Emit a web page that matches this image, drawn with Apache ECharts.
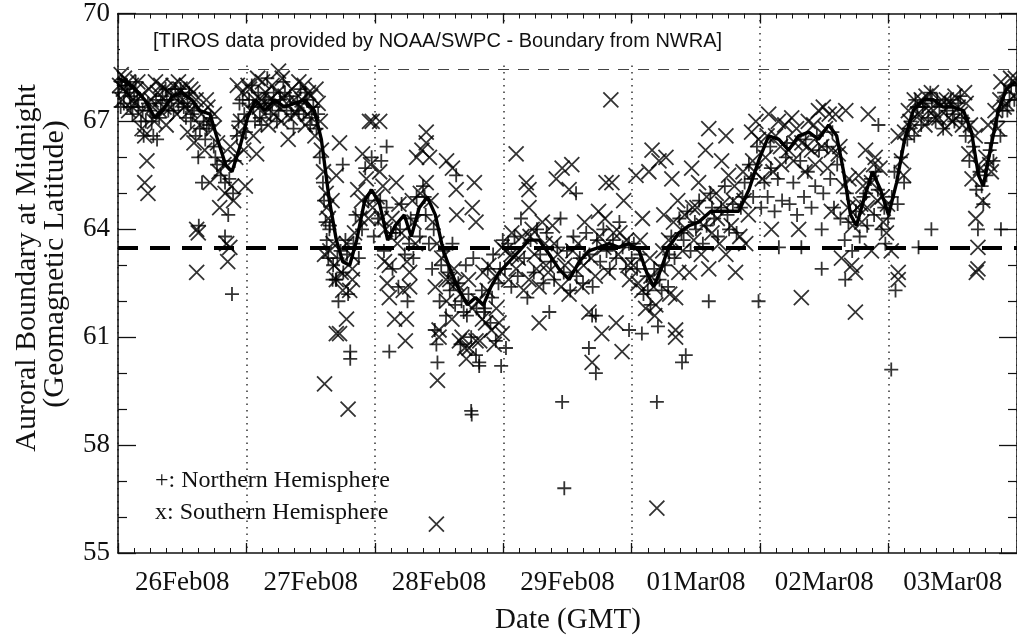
<!DOCTYPE html>
<html>
<head>
<meta charset="utf-8">
<script src="https://cdn.jsdelivr.net/npm/echarts@6/dist/echarts.min.js"></script>
<style>
html,body{margin:0;padding:0;background:#fff;}
#chart{width:1017px;height:636px;}
</style>
</head>
<body>
<div id="chart"></div>
<script>
// Hours since 26Feb08 00:00 GMT, geomagnetic latitude (deg)
const dayLabels = ['26Feb08','27Feb08','28Feb08','29Feb08','01Mar08','02Mar08','03Mar08'];

const northern = [
[0.2,67.8],[0.7,68.1],[1.1,67.5],[1.7,68.0],[2.2,67.7],[2.7,67.2],[3.3,68.1],[3.8,67.4],[4.3,67.0],[4.8,66.6],
[6.0,67.3],[6.6,66.6],[7.1,67.6],[7.3,66.5],[7.7,67.1],[8.3,67.7],[8.9,67.9],[9.4,67.3],[10.0,67.6],[10.7,67.9],
[11.3,67.5],[12.0,67.7],[12.7,67.1],[13.3,67.8],[13.9,67.2],[14.5,66.6],[15.0,66.0],[15.1,64.1],[15.7,65.3],[16.0,67.0],
[16.6,66.8],[17.3,67.1],[17.9,66.3],[18.5,65.8],[19.2,65.5],[20.0,65.3],[20.0,63.8],[20.6,64.4],[21.3,62.2],[21.5,65.0],
[22.2,66.6],[22.7,67.5],[23.3,67.6],[23.9,66.7],
[0.5,67.4],[1.4,67.9],[2.4,67.4],[3.0,67.8],[3.6,67.6],[4.6,67.3],[5.2,67.0],[5.6,67.5],[6.3,67.0],[8.0,67.5],
[9.1,67.6],[10.4,67.3],[11.7,67.9],[12.3,67.4],[13.0,67.5],[13.6,67.0],[14.2,67.3],[15.3,66.8],[16.3,66.5],[17.0,66.9],
[18.2,66.0],[19.6,65.9],[20.8,65.4],[21.8,65.9],[22.5,67.0],[23.6,67.2],
[24.5,67.6],[25.0,68.0],[25.6,67.0],[26.2,67.8],[26.8,66.9],[27.3,67.5],[27.9,68.2],[28.5,67.2],[29.1,67.8],[29.7,67.0],
[30.3,67.6],[30.9,68.1],[31.5,67.3],[32.1,67.7],[32.8,66.8],[33.5,67.5],[34.1,67.9],[34.7,67.2],[35.3,67.6],[35.9,66.9],
[36.5,67.4],[37.1,66.8],[37.7,66.0],[38.3,65.3],[38.8,64.2],[39.3,63.2],[39.5,64.0],[39.6,64.1],[40.1,62.6],[40.2,63.0],
[40.7,62.6],[40.8,62.6],[41.2,62.0],[41.6,63.4],[42.0,65.8],[42.1,62.8],[42.5,63.7],[43.0,62.2],[43.4,60.6],[43.4,60.4],
[44.4,64.4],[45.0,63.2],[45.6,64.0],[46.2,65.7],[46.8,64.8],[47.4,66.0],[47.8,63.8],
[25.3,67.4],[26.5,67.1],[27.6,67.6],[28.8,67.5],[30.0,67.3],[31.2,67.8],[32.4,67.2],[33.8,67.3],[35.0,67.8],[36.2,67.1],
[37.4,67.2],[38.5,64.8],[39.0,63.7],[41.0,63.2],[42.8,63.3],[44.0,63.6],
[48.6,64.3],[49.2,65.9],[49.7,63.4],[50.2,64.6],[50.2,66.3],[50.7,60.6],[51.3,62.9],[51.9,63.9],[52.4,62.4],[53.0,64.7],
[53.6,63.3],[54.1,62.0],[54.7,64.3],[55.2,63.2],[55.8,64.9],[56.4,63.8],[57.0,65.2],[57.5,64.4],[58.1,63.6],[58.7,62.9],
[59.2,61.2],[59.5,60.8],[59.7,60.3],[60.1,62.0],[60.8,63.4],[61.3,61.6],[62.0,62.3],[62.5,63.6],[63.0,61.9],[63.2,65.5],
[63.6,62.5],[64.0,60.8],[64.6,61.7],[65.0,63.0],[65.5,62.2],[66.0,61.0],[66.0,58.95],[66.1,58.85],[66.4,63.2],[66.9,60.5],
[67.5,60.2],[67.5,60.3],[68.0,62.3],[68.6,61.8],[69.1,62.9],[69.6,61.4],[70.1,63.3],[70.6,60.9],[71.1,62.5],[71.6,60.2],[71.9,63.7],
[49.0,64.8],[51.0,63.9],[52.7,64.0],[54.4,63.6],[56.0,64.4],[57.3,64.9],[59.0,64.0],[60.4,63.0],[61.7,62.8],[62.7,62.5],
[64.2,62.0],[65.2,61.6],[67.0,61.8],[68.4,61.7],[69.9,62.1],[71.4,62.9],
[72.3,62.9],[72.5,60.7],[72.9,63.6],[73.5,62.4],[74.1,63.8],[74.7,62.7],[75.3,64.3],[75.9,63.2],[76.5,62.1],[77.1,63.7],
[77.7,62.8],[78.3,64.0],[78.9,63.3],[79.5,62.5],[80.1,63.9],[80.6,61.7],[80.9,63.1],[81.5,62.6],[82.1,63.5],[82.7,64.3],
[83.0,59.2],[83.3,62.8],[83.4,56.8],[83.9,63.4],[84.5,62.3],[85.1,63.8],[85.6,65.0],[85.7,62.7],[86.3,63.2],[86.9,62.5],
[87.5,63.9],[88.0,60.7],[88.1,63.3],[88.6,61.6],[88.7,62.4],[89.3,61.6],[89.3,60.0],[89.5,63.7],[90.1,63.1],[90.7,64.0],
[91.3,63.4],[91.9,62.9],[92.5,63.7],[93.1,63.2],[93.7,64.2],[94.3,63.5],[94.9,62.9],[95.5,63.6],[95.5,61.2],
[96.4,63.6],[97.0,62.9],[97.6,63.3],[97.9,61.1],[98.2,62.2],[98.8,62.7],[99.5,61.9],[100.2,62.9],[100.7,59.2],[100.9,61.3],
[101.6,62.3],[102.2,63.0],[102.8,62.4],[103.4,63.8],[104.0,63.2],[104.9,64.3],[105.4,60.3],[105.7,63.7],[106.1,60.5],[106.4,64.5],
[107.0,63.4],[107.8,64.2],[108.6,64.8],[109.3,63.6],[110.0,64.1],[110.4,62.0],[110.7,65.0],[111.4,64.3],[112.1,63.8],[112.7,64.6],
[113.4,65.2],[114.2,64.0],[114.9,64.7],[115.6,63.9],[116.4,64.6],[117.1,65.3],[117.9,65.8],[118.7,64.9],[119.4,66.3],[119.7,62.0],
[96.0,63.2],[99.0,62.3],[101.2,62.6],[103.0,63.3],[105.3,63.9],[108.0,64.0],[111.0,64.6],[113.9,64.4],[116.7,64.9],[118.3,65.4],
[120.2,64.6],[120.8,65.3],[121.4,64.9],[122.0,65.7],[122.7,64.5],[123.3,65.4],[123.5,63.5],[124.1,64.8],[124.8,66.0],[125.5,64.7],
[126.2,65.3],[126.9,64.4],[127.5,65.9],[127.7,63.5],[128.2,64.9],[128.9,65.6],[129.6,64.6],[130.3,65.2],[131.0,66.2],[131.5,64.0],
[131.5,62.9],[131.8,65.0],[132.5,66.3],[133.1,65.4],[133.8,64.6],[134.4,65.8],[135.0,64.3],[135.8,63.7],[135.9,62.6],[136.5,64.2],
[137.2,63.4],[137.9,64.5],[138.6,63.8],[139.3,64.9],[140.0,64.1],[140.7,65.4],[141.3,64.4],[142.0,65.1],[142.1,66.9],[142.7,64.0],
[143.4,63.6],[143.9,64.3],
[121.9,66.3],[125.0,66.4],[128.5,66.5],[130.6,66.6],[133.5,66.7],[136.2,65.0],[139.8,65.0],[141.6,65.6],[143.2,64.6],
[144.5,60.1],[144.6,64.9],[145.1,65.6],[145.3,62.3],[145.7,64.7],[146.3,66.0],[146.9,65.3],[147.5,66.5],[148.1,67.0],[148.8,66.6],
[149.4,67.4],[149.6,63.5],[150.1,66.9],[150.8,67.5],[151.4,67.1],[152.0,64.0],[152.1,67.6],[152.8,67.0],[153.5,67.4],[154.2,66.8],
[154.9,67.3],[155.6,67.6],[156.3,67.0],[157.0,67.5],[157.7,67.1],[158.4,66.6],[159.1,65.9],[159.8,66.3],[160.4,65.1],[160.7,64.0],
[161.0,65.6],[161.7,64.7],[162.3,65.5],[162.9,66.2],[163.6,65.9],[164.3,67.0],[164.9,66.6],[165.0,64.0],[165.6,67.8],[166.2,67.3],
[166.9,68.0],[167.5,67.6],
[147.8,66.8],[149.0,67.6],[150.4,67.4],[151.8,67.8],[153.1,67.6],[154.6,67.5],[156.0,67.2],[157.4,67.7],[158.8,67.0],[161.4,65.2],
[163.2,66.4],[165.3,67.3],[166.6,67.6],[167.8,68.0]
];

const southern = [
[0.3,68.0],[0.8,67.6],[1.2,68.2],[1.6,67.8],[2.0,67.3],[2.5,68.0],[3.0,67.5],[3.4,67.9],[4.0,67.2],[4.5,66.8],
[5.0,66.6],[5.4,65.9],[5.0,65.3],[5.6,65.0],[6.2,67.6],[6.8,67.0],[7.4,67.8],[8.0,68.0],[8.6,67.4],[9.0,66.9],
[9.6,67.8],[10.3,68.0],[11.0,67.2],[11.6,67.9],[12.4,67.4],[13.0,66.7],[13.6,67.9],[14.2,66.4],[14.6,67.6],[14.7,64.0],
[15.0,63.9],[14.7,62.8],[15.3,66.9],[16.2,66.2],[16.8,67.4],[17.2,65.3],[17.8,66.8],[18.6,66.4],[19.0,64.6],[19.8,65.8],
[20.3,63.6],[20.9,63.5],[20.5,63.1],[21.2,65.2],[21.6,64.8],[22.0,66.0],[22.3,68.0],[22.9,67.0],[23.5,66.2],[23.8,65.2],
[0.6,68.3],[1.0,67.9],[1.9,68.1],[2.8,67.6],[3.7,68.1],[4.2,67.7],[5.8,67.9],[6.5,67.4],[7.0,68.1],[7.8,67.3],
[8.8,67.9],[9.9,67.4],[10.8,67.7],[11.3,68.1],[12.1,67.6],[12.8,68.0],[13.4,67.3],[14.0,67.8],[15.6,67.2],[16.5,67.6],
[18.0,67.2],[18.9,65.6],[20.0,65.0],[21.0,66.3],[22.6,66.7],[23.2,67.8],
[24.3,68.0],[24.8,67.3],[25.3,66.6],[25.9,66.1],[26.4,67.4],[27.0,68.1],[27.6,67.8],[28.1,66.9],[28.8,68.0],[29.4,67.5],
[30.0,68.4],[30.5,67.0],[31.2,67.7],[31.8,66.5],[32.5,67.9],[33.2,67.2],[33.8,68.1],[34.4,67.6],[35.0,66.9],[35.6,67.8],
[36.2,67.3],[36.8,66.6],[37.4,67.5],[38.0,66.2],[38.4,65.6],[38.6,63.3],[38.6,59.7],[38.9,65.0],[39.0,64.6],[39.3,64.3],
[39.6,63.4],[40.0,64.8],[40.4,63.0],[40.8,65.5],[40.8,62.6],[40.8,61.1],[41.4,66.4],[41.4,61.1],[42.0,62.3],[42.7,61.5],
[42.7,63.6],[43.0,59.0],[43.3,62.3],[43.8,62.6],[43.8,62.9],[44.2,63.9],[44.8,65.1],[45.2,64.3],[45.7,66.1],[46.4,65.4],
[47.0,67.0],[47.2,65.8],[47.5,67.0],[47.6,64.6],
[24.6,67.9],[25.6,67.6],[26.1,68.2],[26.8,67.6],[27.3,67.2],[28.4,67.6],[29.1,67.2],[29.8,67.8],[30.7,68.2],[31.5,67.5],
[32.2,67.1],[32.9,67.6],[34.0,67.4],[34.8,68.0],[35.4,67.2],[36.0,67.7],[37.0,67.9],[37.8,67.0],
[40.2,63.6],[41.7,62.8],[43.5,63.3],[45.5,64.8],[46.8,64.3],
[48.4,64.9],[48.9,67.0],[48.9,65.6],[49.5,65.2],[49.8,63.1],[50.3,62.5],[50.7,62.1],[50.7,63.0],[51.2,64.3],[51.7,61.5],
[52.0,65.3],[52.2,63.6],[53.3,62.3],[53.7,60.9],[53.9,61.5],[54.0,63.1],[54.5,62.4],[54.5,62.8],[55.0,64.8],[55.6,63.6],
[55.8,66.0],[56.8,66.2],[57.6,66.7],[57.6,66.4],[57.6,65.3],[58.2,66.0],[58.8,64.2],[59.3,62.4],[59.5,55.8],[59.7,59.8],
[60.0,61.2],[60.0,61.0],[61.3,62.6],[61.4,62.0],[61.4,65.9],[62.4,61.5],[62.5,65.7],[62.8,62.9],[63.2,65.1],[63.2,62.5],
[63.3,64.4],[63.8,60.9],[64.3,61.0],[64.8,60.7],[65.1,60.4],[65.6,60.7],[66.2,61.8],[66.2,64.6],[66.6,65.3],[66.9,60.9],
[66.9,64.2],[67.6,60.9],[68.1,61.5],[68.2,62.8],[68.7,61.4],[69.3,63.0],[69.8,61.2],[70.3,60.8],[70.7,61.8],[71.2,61.4],
[71.8,61.1],[71.7,63.5],
[49.2,64.3],[50.0,64.0],[52.5,64.7],[53.0,63.9],[55.3,64.2],[56.5,65.0],[58.5,64.8],[59.6,63.6],[60.5,63.2],[62.0,62.6],
[64.0,62.2],[65.5,62.6],[67.3,62.0],[69.0,62.3],[70.5,62.7],
[72.4,63.4],[73.0,62.6],[73.6,63.9],[74.4,66.1],[74.4,62.9],[74.8,63.2],[75.5,63.8],[75.8,62.3],[76.3,65.3],[76.8,65.1],
[76.8,64.6],[76.8,62.6],[77.4,64.0],[77.8,63.3],[78.2,62.9],[78.7,62.4],[78.7,61.4],[79.3,64.2],[79.8,63.6],[80.4,62.8],
[81.2,64.1],[81.9,65.4],[82.2,63.3],[82.8,62.4],[83.0,65.7],[83.5,63.0],[84.3,65.1],[84.3,62.2],[84.8,65.8],[85.4,62.9],
[86.0,63.6],[86.7,62.4],[87.2,64.2],[88.0,61.7],[88.4,63.2],[88.6,60.3],[89.2,62.7],[89.8,64.5],[90.4,61.1],[90.8,63.5],
[91.2,65.3],[91.6,62.8],[92.1,67.6],[92.3,65.3],[92.6,63.9],[93.1,61.4],[93.5,63.3],[94.2,60.6],[94.5,64.8],[95.0,63.7],
[95.6,62.6],
[73.5,63.3],[77.0,63.8],[80.0,63.0],[81.5,63.6],[85.0,63.4],[87.0,63.0],[90.0,63.8],[91.0,64.3],[93.8,63.9],[95.3,63.0],
[96.3,63.0],[96.8,65.5],[97.2,62.5],[97.9,62.3],[98.0,64.3],[98.6,61.8],[99.2,65.6],[99.4,63.2],[99.8,66.2],[100.1,62.4],
[100.3,61.6],[100.5,61.9],[100.7,56.25],[101.1,65.9],[101.5,62.9],[102.0,64.4],[102.4,66.0],[102.9,63.7],[103.1,62.2],[103.5,65.4],
[104.2,62.1],[104.2,61.2],[104.2,61.0],[104.6,64.8],[104.8,62.8],[105.5,63.4],[106.2,64.0],[106.8,62.8],[107.2,65.7],[107.6,63.7],
[108.2,64.6],[108.5,65.3],[109.0,63.3],[109.8,66.2],[110.0,64.9],[110.4,66.8],[110.4,62.9],[111.0,63.9],[111.8,65.0],[112.4,63.6],
[112.8,65.9],[113.0,64.7],[113.6,66.6],[113.6,63.3],[114.1,65.5],[114.6,64.1],[115.2,65.2],[115.4,62.8],[116.2,63.8],[116.8,65.6],
[117.3,63.6],[117.8,64.4],[118.4,66.7],[118.6,65.9],[119.2,67.0],[119.7,66.5],
[97.6,63.7],[99.6,62.7],[101.8,63.4],[103.8,64.2],[105.9,64.4],[107.4,64.6],[109.4,64.1],[112.0,64.3],[115.0,64.8],[117.0,64.8],
[119.0,65.6],
[120.4,65.4],[121.0,66.0],[121.6,67.2],[122.1,64.0],[122.4,65.6],[122.9,66.6],[123.4,67.0],[124.0,65.8],[124.6,66.9],[125.3,66.2],
[125.9,67.1],[126.2,65.9],[126.8,66.8],[127.2,64.0],[127.7,62.1],[127.8,66.4],[128.4,65.6],[129.0,67.0],[129.6,66.2],[130.3,65.8],
[130.9,67.3],[131.5,66.3],[131.8,67.4],[132.2,66.8],[132.6,65.7],[133.3,66.2],[133.3,64.5],[134.1,67.2],[134.6,66.1],[135.2,63.2],
[135.6,65.2],[136.0,67.3],[136.4,64.6],[137.1,63.0],[137.3,64.1],[137.8,62.8],[137.8,61.7],[138.4,65.5],[138.8,64.7],[139.2,65.2],
[139.7,66.2],[140.0,64.6],[140.2,67.2],[140.8,65.3],[140.8,63.4],[141.5,66.0],[141.9,64.8],[142.4,65.7],[143.0,64.2],[143.6,63.9],
[121.3,66.6],[123.8,66.3],[126.5,66.4],[128.8,66.3],[130.0,66.9],[132.9,67.2],[134.9,66.3],[136.6,65.4],[138.2,64.6],[139.0,64.2],
[141.2,65.8],[142.8,64.9],[143.8,64.7],
[144.5,63.4],[145.8,62.8],[145.8,62.6],[145.8,66.6],[146.4,65.9],[147.0,66.7],[147.7,67.3],[148.3,66.8],[148.8,67.6],[149.4,67.2],
[150.1,67.6],[150.8,66.9],[151.5,67.3],[152.0,67.8],[152.8,67.1],[153.9,67.6],[154.5,66.8],[155.2,67.1],[155.7,67.5],[156.4,67.7],
[157.0,67.4],[157.8,66.9],[158.5,67.5],[159.0,66.1],[159.6,65.4],[160.2,66.6],[160.3,64.3],[160.4,62.8],[160.7,63.5],[160.7,62.9],
[161.2,65.7],[161.6,64.8],[162.2,66.0],[162.6,66.9],[163.2,65.6],[163.9,67.3],[164.4,66.8],[165.0,68.1],[165.6,67.4],[166.3,67.9],
[166.8,68.2],[167.4,67.7],
[146.8,65.5],[148.0,67.0],[149.9,67.2],[151.0,67.7],[152.4,67.3],[153.4,67.1],[154.8,67.6],[156.0,67.0],[157.4,67.2],[158.2,67.8],
[159.3,66.9],[162.9,65.8],[164.8,67.6],[166.0,67.5],[167.7,68.2]
];

const boundary = [
[0,68.2],[1.3,68.1],[3.2,67.9],[5.0,67.6],[6.9,67.1],[8.4,67.3],[10.1,67.7],[11.9,67.8],[13.8,67.6],[15.3,67.3],
[17.2,67.2],[18.6,66.5],[20.1,65.8],[21.3,65.6],[22.8,66.3],[24.2,67.1],[25.7,67.6],[27.4,67.3],[29.3,67.6],[31.1,67.4],
[33.0,67.5],[34.9,67.6],[36.7,67.3],[38.0,66.5],[39.5,64.8],[40.8,63.7],[42.0,63.1],[43.3,63.0],[44.6,63.7],[46.1,64.8],
[47.4,65.1],[48.9,64.7],[50.4,63.7],[51.8,64.1],[53.5,64.4],[54.8,63.8],[56.3,64.6],[57.8,64.9],[59.3,64.4],[60.8,63.4],
[62.3,62.8],[63.8,62.3],[65.3,61.9],[66.8,62.1],[68.3,61.9],[69.7,62.4],[71.2,62.8],[73.1,63.1],[75.0,63.4],[76.8,63.7],
[78.7,63.7],[80.6,63.3],[82.4,62.9],[84.3,62.6],[86.2,63.1],[88.0,63.4],[89.9,63.5],[91.8,63.6],[93.6,63.5],[95.5,63.6],
[97.4,63.4],[98.8,62.8],[100.1,62.4],[101.5,62.9],[102.9,63.5],[104.8,63.9],[106.7,64.1],[108.5,64.2],[110.8,64.5],[113.2,64.5],
[116.0,64.5],[117.9,65.1],[119.7,65.9],[121.6,66.6],[123.5,66.5],[125.3,66.2],[127.2,66.6],[129.1,66.7],[130.9,66.5],[132.8,66.9],
[134.3,66.6],[135.6,65.6],[136.9,64.4],[138.0,64.1],[139.5,64.9],[141.0,65.6],[142.5,65.1],[144.0,64.4],[145.5,65.3],[147.0,66.5],
[148.6,67.3],[150.5,67.6],[152.4,67.6],[154.2,67.4],[156.1,67.4],[158.0,67.3],[159.5,66.7],[160.8,65.5],[161.7,65.2],[163.0,66.2],
[164.5,67.3],[166.0,67.9],[167.7,68.1]
];

const quietLevel = 68.45;     // thin dashed reference
const activeLevel = 63.5;     // thick dashed reference

const SERIF = '"Liberation Serif","Times New Roman",serif';
const SANS = '"Liberation Sans",Arial,sans-serif';
const INK = '#111';

const chart = echarts.init(document.getElementById('chart'), null, {renderer:'canvas'});

const valueXAxis = (pos) => ({
  type:'value', min:0, max:168, interval:24, position:pos, gridIndex:0,
  axisLine:{show:true, onZero:false, lineStyle:{color:INK, width:1.5}},
  axisTick:{show:true, inside:true, length:10, lineStyle:{color:INK, width:1.3}},
  minorTick:{show:true, splitNumber:8, length:5, lineStyle:{color:INK, width:1}},
  axisLabel:{show:false},
  splitLine:{show: pos==='bottom', lineStyle:{color:'#333', width:1.5, type:[1.5,5]}},
  minorSplitLine:{show:false}
});

const yAx = (pos, labels) => ({
  type:'value', min:55, max:70, interval:3, position:pos, gridIndex:0,
  axisLine:{show:true, onZero:false, lineStyle:{color:INK, width:1.5}},
  axisTick:{show:true, inside:true, length:18, lineStyle:{color:INK, width:1.3}},
  minorTick:{show:true, splitNumber:3, length:9, lineStyle:{color:INK, width:1.2}},
  axisLabel:{show:labels, fontFamily:SERIF, fontSize:27, color:INK, margin:8},
  splitLine:{show:false}
});

const plusSym = 'path://M0,5L10,5M5,0L5,10';
const crossSym = 'path://M0,0L10,10M10,0L0,10';

chart.setOption({
  animation:false,
  backgroundColor:'#fff',
  grid:{left:118, top:12, width:900, height:541, containLabel:false},
  xAxis:[
    valueXAxis('bottom'),
    {
      type:'category', data:dayLabels, position:'bottom', gridIndex:0, boundaryGap:true,
      axisLine:{show:false}, axisTick:{show:false}, splitLine:{show:false},
      axisLabel:{show:true, fontFamily:SERIF, fontSize:27, color:INK, margin:16, interval:0}
    },
    valueXAxis('top')
  ],
  yAxis:[ yAx('left', true), yAx('right', false) ],
  series:[
    {
      type:'scatter', name:'Northern', data:northern, xAxisIndex:0, yAxisIndex:0,
      symbol:plusSym, symbolSize:14, silent:true,
      itemStyle:{color:'rgba(0,0,0,0)', borderColor:'#000', borderWidth:1.8},
      z:3
    },
    {
      type:'scatter', name:'Southern', data:southern, xAxisIndex:0, yAxisIndex:0,
      symbol:crossSym, symbolSize:15, silent:true,
      itemStyle:{color:'rgba(0,0,0,0)', borderColor:'#000', borderWidth:1.8},
      z:3
    },
    {
      type:'line', name:'Boundary', data:boundary, xAxisIndex:0, yAxisIndex:0,
      symbol:'none', smooth:false, silent:true,
      lineStyle:{color:'#000', width:3.4},
      z:4,
      markLine:{
        silent:true, symbol:['none','none'], label:{show:false},
        data:[
          {yAxis:quietLevel, lineStyle:{color:'#444', width:1.2, type:[11,9]}},
          {yAxis:activeLevel, lineStyle:{color:'#000', width:4, type:[20,12]}}
        ]
      }
    }
  ],
  graphic:[
    {type:'rect', shape:{x:120, y:24, width:625, height:39}, style:{fill:'#fff'}, z:50, silent:true},
    {type:'text', x:153, y:41, z:51, silent:true,
      style:{text:'[TIROS data provided by NOAA/SWPC - Boundary from NWRA]', font:'20px '+SANS, fill:INK,
        align:'left', verticalAlign:'middle', textAlign:'left', textVerticalAlign:'middle'}},
    {type:'text', x:155, y:481, z:51, silent:true,
      style:{text:'+: Northern Hemisphere', font:'24px '+SERIF, fill:INK,
        align:'left', verticalAlign:'middle', textAlign:'left', textVerticalAlign:'middle'}},
    {type:'text', x:155, y:513, z:51, silent:true,
      style:{text:'x: Southern Hemisphere', font:'24px '+SERIF, fill:INK,
        align:'left', verticalAlign:'middle', textAlign:'left', textVerticalAlign:'middle'}},
    {type:'text', x:568, y:620, z:51, silent:true,
      style:{text:'Date (GMT)', font:'29px '+SERIF, fill:INK,
        align:'center', verticalAlign:'middle', textAlign:'center', textVerticalAlign:'middle'}},
    {type:'text', x:27, y:268, rotation:Math.PI/2, z:51, silent:true,
      style:{text:'Auroral Boundary at Midnight', font:'30px '+SERIF, fill:INK,
        align:'center', verticalAlign:'middle', textAlign:'center', textVerticalAlign:'middle'}},
    {type:'text', x:55, y:264, rotation:Math.PI/2, z:51, silent:true,
      style:{text:'(Geomagnetic Latitude)', font:'30px '+SERIF, fill:INK,
        align:'center', verticalAlign:'middle', textAlign:'center', textVerticalAlign:'middle'}}
  ]
});
</script>
</body>
</html>
